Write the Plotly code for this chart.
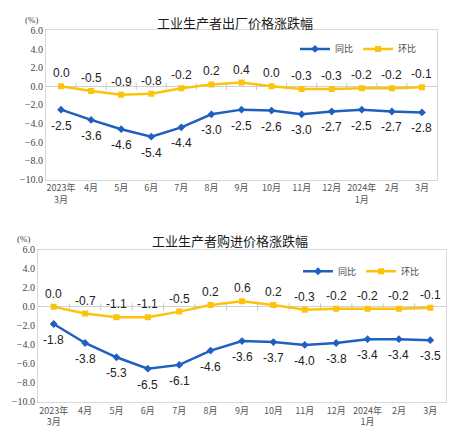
import plotly.graph_objects as go

months = ["2023年<br>3月", "4月", "5月", "6月", "7月", "8月", "9月", "10月", "11月", "12月", "2024年<br>1月", "2月", "3月"]
ppi_yoy = [-2.5, -3.6, -4.6, -5.4, -4.4, -3.0, -2.5, -2.6, -3.0, -2.7, -2.5, -2.7, -2.8]
ppi_mom = [0.0, -0.5, -0.9, -0.8, -0.2, 0.2, 0.4, 0.0, -0.3, -0.3, -0.2, -0.2, -0.1]
pur_yoy = [-1.8, -3.8, -5.3, -6.5, -6.1, -4.6, -3.6, -3.7, -4.0, -3.8, -3.4, -3.4, -3.5]
pur_mom = [0.0, -0.7, -1.1, -1.1, -0.5, 0.2, 0.6, 0.2, -0.3, -0.2, -0.2, -0.2, -0.1]
titles = ["工业生产者出厂价格涨跌幅", "工业生产者购进价格涨跌幅"]

BLUE = "#1f5fc0"
YELLOW = "#fbc30b"
xs = list(range(len(months)))
bounds = [i + 0.5 for i in range(len(months) - 1)]

fig = go.Figure()

panels = [
    (ppi_yoy, ppi_mom, "x", "y", "legend"),
    (pur_yoy, pur_mom, "x2", "y2", "legend2"),
]
label_font = dict(family="Liberation Sans", size=12, color="#222")
for yoy, mom, xa, ya, leg in panels:
    fig.add_trace(go.Scatter(x=bounds, y=[0] * len(bounds), mode="markers",
                             marker=dict(symbol="line-ns-open", size=5, color="#c8c8c8", line=dict(width=1, color="#c8c8c8")),
                             xaxis=xa, yaxis=ya, showlegend=False, hoverinfo="skip"))
    fig.add_trace(go.Scatter(x=xs, y=yoy, mode="lines+markers", name="同比",
                             line=dict(color=BLUE, width=2.5),
                             marker=dict(symbol="diamond", size=6, color=BLUE),
                             xaxis=xa, yaxis=ya, showlegend=True, legend=leg))
    fig.add_trace(go.Scatter(x=xs, y=mom, mode="lines+markers", name="环比",
                             line=dict(color=YELLOW, width=2.5),
                             marker=dict(symbol="square", size=6, color=YELLOW),
                             xaxis=xa, yaxis=ya, showlegend=True, legend=leg))
    for x, v in zip(xs, yoy):
        fig.add_annotation(x=x, y=v, xref=xa, yref=ya, text=f"{v:.1f}", showarrow=False,
                           yshift=-16, font=label_font)
    for x, v in zip(xs, mom):
        fig.add_annotation(x=x, y=v, xref=xa, yref=ya, text=f"{v:.1f}", showarrow=False,
                           yshift=13, font=label_font)

ax_common = dict(range=[-0.5, 12.5], tickvals=xs, ticktext=months, showgrid=False, zeroline=False,
                 showline=True, mirror=True, linecolor="#d9d9d9", linewidth=1, ticks="",
                 tickfont=dict(family="Noto Sans CJK SC", size=9, color="#555"))
ay_common = dict(range=[-10, 6], dtick=2, tickformat=".1f", showgrid=False, zeroline=True,
                 zerolinecolor="#d0d0d0", zerolinewidth=1,
                 showline=True, mirror=True, linecolor="#d9d9d9", linewidth=1, ticks="",
                 tickfont=dict(family="Liberation Serif", size=10, color="#444"))

top_dom_y = [1 - 179 / 446, 1 - 26 / 446]
bot_dom_y = [1 - 407 / 446, 1 - 251 / 446]

leg_font = dict(family="Noto Sans CJK SC", size=9, color="#444")
fig.update_layout(
    width=450, height=446, margin=dict(l=0, r=0, t=0, b=0),
    paper_bgcolor="white", plot_bgcolor="white",
    xaxis=dict(domain=[46 / 450, 437 / 450], anchor="y", **ax_common),
    yaxis=dict(domain=top_dom_y, anchor="x", **ay_common),
    xaxis2=dict(domain=[38 / 450, 446 / 450], anchor="y2", **ax_common),
    yaxis2=dict(domain=bot_dom_y, anchor="x2", **ay_common),
    legend=dict(orientation="h", x=422 / 450, xanchor="right", y=1 - 45 / 446, yanchor="middle",
                font=leg_font, bgcolor="rgba(0,0,0,0)", itemwidth=30),
    legend2=dict(orientation="h", x=425 / 450, xanchor="right", y=1 - 273 / 446, yanchor="middle",
                 font=leg_font, bgcolor="rgba(0,0,0,0)", itemwidth=30),
    showlegend=True,
)

for text, x, y in [(titles[0], 235, 18), (titles[1], 230, 241)]:
    fig.add_annotation(text=text, x=x / 450, y=1 - y / 446, xref="paper", yref="paper",
                       showarrow=False, xanchor="center", yanchor="middle",
                       font=dict(family="Noto Sans CJK SC", size=13, color="#1a1a1a"))
for x, y in [(32, 15), (24, 240)]:
    fig.add_annotation(text="(%)", x=x / 450, y=1 - y / 446, xref="paper", yref="paper", showarrow=False,
                       xanchor="center", yanchor="middle",
                       font=dict(family="Liberation Serif", size=9, color="#444"))

fig.write_html("out.html")
